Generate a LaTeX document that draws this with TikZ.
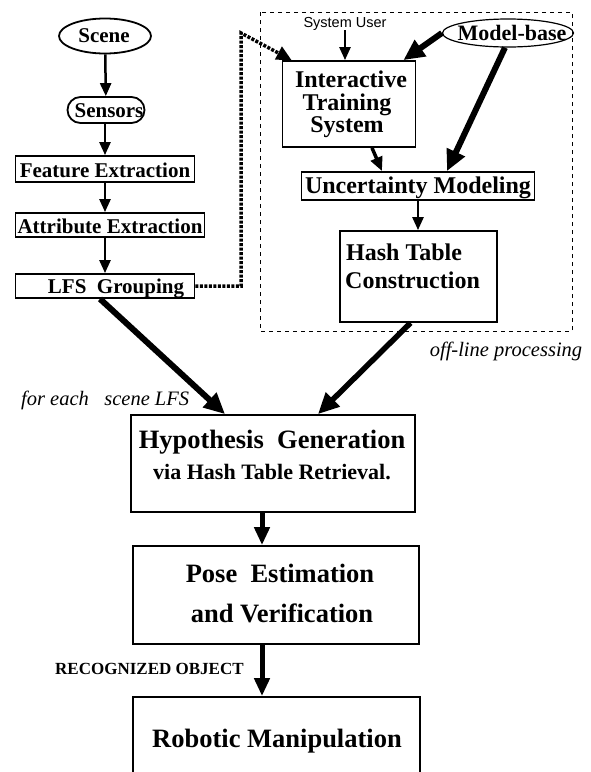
\documentclass[tikz,border=0pt]{standalone}
\usepackage{fontspec}
\setmainfont{Liberation Serif}
\setsansfont{Liberation Sans}
\usetikzlibrary{arrows.meta,shapes.geometric}

\begin{document}
\begin{tikzpicture}[x=1pt,y=-1pt,
  frame/.style={draw,line width=1.8pt,inner sep=0pt},
  fsmall/.style={font=\fontsize{21}{21}\selectfont\bfseries},
  fmid/.style={font=\fontsize{24}{24}\selectfont\bfseries},
  fbig/.style={font=\fontsize{26.5}{26.5}\selectfont\bfseries},
  fvia/.style={font=\fontsize{22}{22}\selectfont\bfseries},
  fnote/.style={font=\fontsize{20.5}{20.5}\selectfont\itshape},
  txt/.style={anchor=base,inner sep=0pt},
  thinarrow/.style={line width=2.5pt,-{Triangle[length=13pt,width=11pt]}},
  medarrow/.style={line width=5pt,-{Triangle[length=18pt,width=15pt]}},
  thickarrow/.style={line width=6pt,-{Triangle[length=21pt,width=19pt]}},
  dotarrow/.style={line width=3.5pt,dash pattern=on 3pt off 1.5pt,-{Triangle[length=15pt,width=14pt]}},
]
\useasboundingbox (0,0) rectangle (591,772);

% off-line processing frame
\draw[line width=1pt,dash pattern=on 4pt off 4pt] (260,12) rectangle (572,331);
\node[fnote,txt] (offline) at (506,356) {off-line processing};

% scene-side pipeline
\node[frame,ellipse,minimum width=92pt,minimum height=35pt] (scene) at (105,36) {};
\node[fsmall,txt] (scene-t) at (104,42) {Scene};
\node[frame,rounded corners=13pt,minimum width=77pt,minimum height=26pt] (sensors) at (106,110) {};
\node[fsmall,txt] (sensors-t) at (109,117) {Sensors};
\node[frame,minimum width=179pt,minimum height=26pt] (feat) at (105,169) {};
\node[fsmall,txt] (feat-t) at (105,177) {Feature Extraction};
\node[frame,minimum width=189pt,minimum height=24pt] (attr) at (110,225) {};
\node[fsmall,txt] (attr-t) at (110,233) {Attribute Extraction};
\node[frame,minimum width=179pt,minimum height=24pt] (lfs) at (105,286) {};
\node[fsmall,txt] (lfs-t) at (116,293) {LFS\ \ Grouping};

% model-side pipeline
\node[font=\fontsize{14.5}{14.5}\selectfont\sffamily,txt] (user) at (345,27) {System User};
\node[frame,ellipse,line width=1.2pt,minimum width=131pt,minimum height=28pt] (model) at (508,33) {};
\node[font=\fontsize{22}{22}\selectfont\bfseries,txt] (model-t) at (512,40) {Model-base};
\node[frame,minimum width=133pt,minimum height=86pt] (its) at (349,104) {};
\node[fmid,txt] (its-1) at (351,87) {Interactive};
\node[fmid,txt] (its-2) at (347,110) {Training};
\node[fmid,txt] (its-3) at (347,132) {System};
\node[frame,minimum width=233pt,minimum height=28pt] (um) at (418,186) {};
\node[fmid,txt] (um-t) at (418,193) {Uncertainty Modeling};
\node[frame,minimum width=157pt,minimum height=91pt] (htc) at (418.5,276.5) {};
\node[fmid,txt,anchor=base west] (htc-1) at (346,260) {Hash Table};
\node[fmid,txt,anchor=base west] (htc-2) at (345,288) {Construction};

% recognition stages
\node[frame,minimum width=284pt,minimum height=97pt] (hgen) at (273,463.5) {};
\node[fbig,txt] (hgen-1) at (272,448) {Hypothesis\ \ Generation};
\node[fvia,txt] (hgen-2) at (272,479) {via Hash Table Retrieval.};
\node[frame,minimum width=286pt,minimum height=98pt] (pose) at (276,595) {};
\node[fbig,txt] (pose-1) at (280,582) {Pose\ \ Estimation};
\node[fbig,txt] (pose-2) at (282,622) {and Verification};
\node[frame,minimum width=287pt,minimum height=106pt] (rm) at (276.5,750) {};
\node[fbig,txt] (rm-t) at (277,747) {Robotic Manipulation};

\node[fnote,txt,anchor=base west] (each) at (21,405) {for each\ \ \ scene LFS};
\node[font=\fontsize{17}{17}\selectfont\bfseries,txt,anchor=base west] (recog) at (55,674) {RECOGNIZED OBJECT};

% connectors
\draw[thinarrow] (scene) -- (sensors);
\draw[thinarrow] (sensors.south -| feat.north) -- (feat.north);
\draw[thinarrow] (feat.south) -- (feat.south |- attr.north);
\draw[thinarrow] (feat.south |- attr.south) -- (lfs.north);
\draw[thinarrow] (user.south) -- (user.south |- its.north);
\draw[thickarrow] (model.west) -- ([xshift=-13pt]its.north east);
\draw[thickarrow] ([xshift=-3pt]model.south) -- ([xshift=29pt]um.north);
\draw[line width=3.5pt,-{Triangle[length=14pt,width=12pt]}] ([xshift=23pt]its.south) -- ([xshift=-36pt]um.north);
\draw[thinarrow] (um.south) -- (um.south |- htc.north);

\coordinate (d1) at (241,286);
\coordinate (d2) at (241,33);
\draw[dotarrow] (lfs.east) -- (d1) -- (d2) -- ([xshift=10pt]its.north west);

\draw[thickarrow] ([xshift=-5pt]lfs.south) -- ([xshift=-48pt]hgen.north);
\draw[line width=5.5pt,-{Triangle[length=21pt,width=19pt]}] ([xshift=-8pt]htc.south) -- ([xshift=45pt]hgen.north);
\draw[medarrow] ([xshift=-11pt]hgen.south) -- ([xshift=-11pt]hgen.south |- pose.north);
\draw[medarrow] ([xshift=-14pt]pose.south) -- ([xshift=-14pt]pose.south |- rm.north);
\end{tikzpicture}
\end{document}
